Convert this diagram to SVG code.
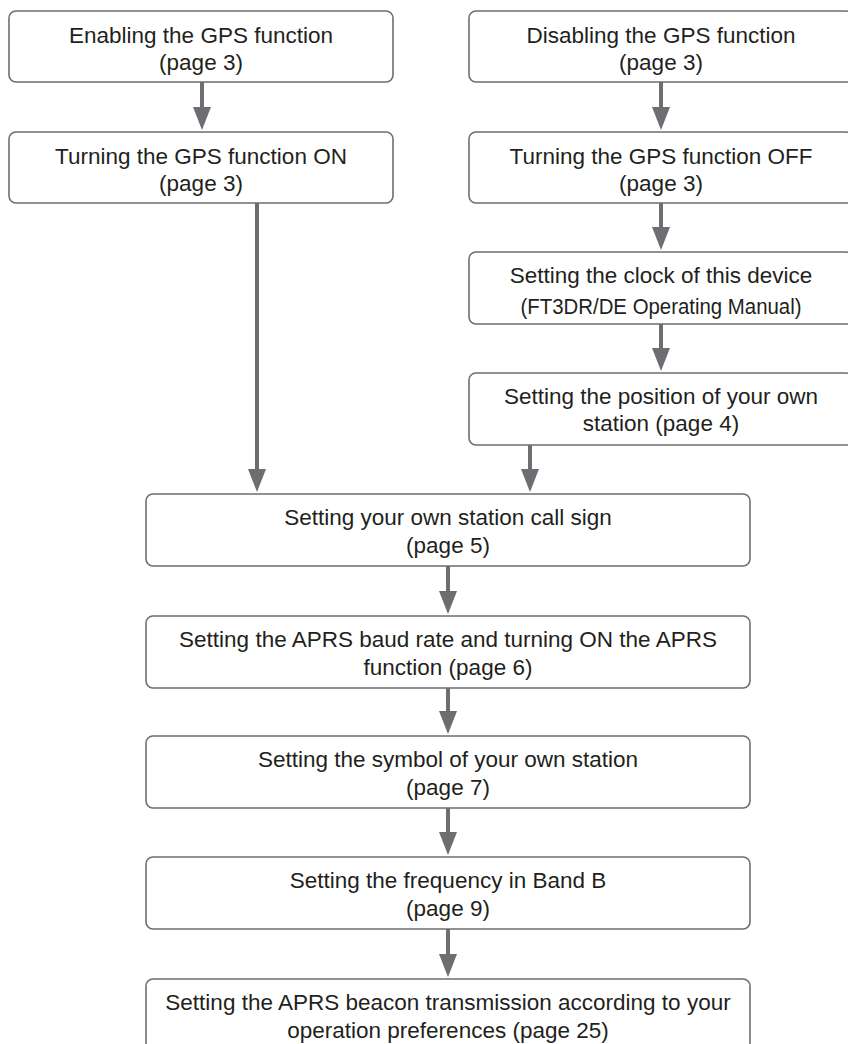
<svg xmlns="http://www.w3.org/2000/svg" width="848" height="1044" viewBox="0 0 848 1044">
<style>
.box{fill:#ffffff;stroke:#6d6e71;stroke-width:1.6}
.t{font-family:"Liberation Sans",Arial,sans-serif;font-size:22.5px;fill:#231f20;text-anchor:middle}
.c{stroke:#6d6e71;stroke-width:4;fill:none;marker-end:url(#ah)}
</style>
<defs>
<marker id="ah" viewBox="0 0 23 18" refX="1" refY="9" markerWidth="23" markerHeight="18" markerUnits="userSpaceOnUse" orient="auto">
<path d="M0,0 L23,9 L0,18 Z" fill="#6d6e71"/>
</marker>
</defs>
<rect width="848" height="1044" fill="#ffffff"/>
<g id="connectors">
<line class="c" x1="202" y1="82" x2="202" y2="108"/>
<line class="c" x1="661" y1="82" x2="661" y2="108"/>
<line class="c" x1="661" y1="203" x2="661" y2="228"/>
<line class="c" x1="661" y1="324" x2="661" y2="349"/>
<line class="c" x1="257" y1="203" x2="257" y2="470"/>
<line class="c" x1="530" y1="445" x2="530" y2="470"/>
<line class="c" x1="448" y1="566" x2="448" y2="592"/>
<line class="c" x1="448" y1="688" x2="448" y2="712"/>
<line class="c" x1="448" y1="808" x2="448" y2="833"/>
<line class="c" x1="448" y1="929" x2="448" y2="955"/>
</g>
<g id="n1">
<rect class="box" x="9" y="11" width="384" height="71" rx="7"/>
<text class="t" x="201" y="43">Enabling the GPS function</text>
<text class="t" x="201" y="70">(page 3)</text>
</g>
<g id="n2">
<rect class="box" x="9" y="132" width="384" height="71" rx="7"/>
<text class="t" x="201" y="164">Turning the GPS function ON</text>
<text class="t" x="201" y="191">(page 3)</text>
</g>
<g id="n3">
<rect class="box" x="469" y="11" width="384" height="71" rx="7"/>
<text class="t" x="661" y="43">Disabling the GPS function</text>
<text class="t" x="661" y="70">(page 3)</text>
</g>
<g id="n4">
<rect class="box" x="469" y="132" width="384" height="71" rx="7"/>
<text class="t" x="661" y="164">Turning the GPS function OFF</text>
<text class="t" x="661" y="191">(page 3)</text>
</g>
<g id="n5">
<rect class="box" x="469" y="252" width="384" height="72" rx="7"/>
<text class="t" x="661" y="283">Setting the clock of this device</text>
<text class="t" x="661" y="314" textLength="281" lengthAdjust="spacingAndGlyphs">(FT3DR/DE Operating Manual)</text>
</g>
<g id="n6">
<rect class="box" x="469" y="373" width="384" height="72" rx="7"/>
<text class="t" x="661" y="404">Setting the position of your own</text>
<text class="t" x="661" y="431">station (page 4)</text>
</g>
<g id="n7">
<rect class="box" x="146" y="494" width="604" height="72" rx="7"/>
<text class="t" x="448" y="525">Setting your own station call sign</text>
<text class="t" x="448" y="553">(page 5)</text>
</g>
<g id="n8">
<rect class="box" x="146" y="616" width="604" height="72" rx="7"/>
<text class="t" x="448" y="647">Setting the APRS baud rate and turning ON the APRS</text>
<text class="t" x="448" y="675">function (page 6)</text>
</g>
<g id="n9">
<rect class="box" x="146" y="736" width="604" height="72" rx="7"/>
<text class="t" x="448" y="767">Setting the symbol of your own station</text>
<text class="t" x="448" y="795">(page 7)</text>
</g>
<g id="n10">
<rect class="box" x="146" y="857" width="604" height="72" rx="7"/>
<text class="t" x="448" y="888">Setting the frequency in Band B</text>
<text class="t" x="448" y="916">(page 9)</text>
</g>
<g id="n11">
<rect class="box" x="146" y="979" width="604" height="72" rx="7"/>
<text class="t" x="448" y="1010">Setting the APRS beacon transmission according to your</text>
<text class="t" x="448" y="1038">operation preferences (page 25)</text>
</g>
</svg>
